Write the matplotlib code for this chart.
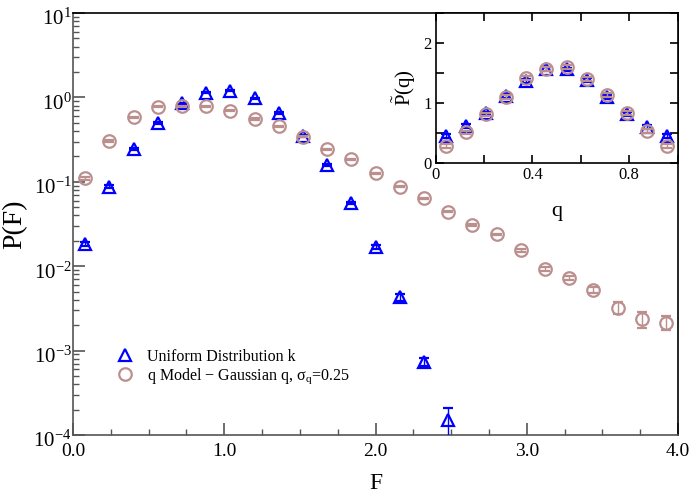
import numpy as np
import matplotlib
matplotlib.use('Agg')
import matplotlib.pyplot as plt
from matplotlib.lines import Line2D
from matplotlib.ticker import MultipleLocator, LogLocator, NullFormatter
import matplotlib.transforms as mtransforms

plt.rcParams['font.family'] = ['Liberation Serif', 'DejaVu Serif']
plt.rcParams['mathtext.fontset'] = 'custom'
plt.rcParams['mathtext.rm'] = 'Liberation Serif'
plt.rcParams['mathtext.it'] = 'Liberation Serif:italic'

# main panel: P(F), bins centred at 0.08 + 0.16*i
F_uni = [0.08, 0.24, 0.40, 0.56, 0.72, 0.88, 1.04, 1.20, 1.36, 1.52, 1.68, 1.84,
         2.00, 2.16, 2.32, 2.48]
P_uni = [0.0183, 0.0875, 0.243, 0.50, 0.85, 1.14, 1.20, 0.975, 0.648, 0.349, 0.158,
         0.056, 0.0168, 0.00428, 0.00074, 0.000151]
err_uni = [0.001, 0.004, 0.008, 0.01, 0.02, 0.02, 0.02, 0.02, 0.015, 0.01, 0.005,
           0.002, 0.0008, 0.0004, 0.00008, 0.00006]

F_gau = [0.08, 0.24, 0.40, 0.56, 0.72, 0.88, 1.04, 1.20, 1.36, 1.52, 1.68, 1.84,
         2.00, 2.16, 2.32, 2.48, 2.64, 2.80, 2.96, 3.12, 3.28, 3.44, 3.60, 3.76, 3.92]
P_gau = [0.11, 0.307, 0.581, 0.776, 0.79, 0.79, 0.697, 0.555, 0.458, 0.342, 0.243,
         0.185, 0.126, 0.0875, 0.0637, 0.0442, 0.0307, 0.0239, 0.0155, 0.00927,
         0.00731, 0.00522, 0.00322, 0.00235, 0.00214]
err_gau = [0.004, 0.008, 0.01, 0.01, 0.01, 0.01, 0.01, 0.008, 0.006, 0.005, 0.004,
           0.003, 0.002, 0.0015, 0.001, 0.0008, 0.0006, 0.0005, 0.0006, 0.0004,
           0.0004, 0.0004, 0.0005, 0.0005, 0.0004]

# inset: P~(q), 12 bins
q_bins = [0.0417, 0.125, 0.208, 0.292, 0.375, 0.458, 0.542, 0.625, 0.708, 0.792,
          0.875, 0.958]
Pq_uni = [0.45, 0.617, 0.829, 1.116, 1.37, 1.564, 1.56, 1.38, 1.105, 0.823, 0.607, 0.45]
Pq_gau = [0.287, 0.514, 0.812, 1.105, 1.42, 1.564, 1.60, 1.40, 1.13, 0.84, 0.536, 0.29]

blue = '#0000ff'
brown = '#bc8f8f'
lab_uni = 'Uniform Distribution k'
lab_gau = r'q Model $-$ Gaussian q, $\mathregular{\sigma_q}$=0.25'

mk = dict(ms=9, mfc='none', mew=1.6, elinewidth=1.0, capsize=3.5, capthick=1.0)

fig = plt.figure(figsize=(6.92, 4.94), dpi=100)
ax = fig.add_axes([73 / 692, 59 / 494, 605 / 692, 422 / 494])

ax.errorbar(F_uni, P_uni, yerr=err_uni, fmt='^', mec=blue, ecolor=blue, zorder=3, **mk)
ax.errorbar(F_gau, P_gau, yerr=err_gau, fmt='o', mec=brown, ecolor=brown, zorder=4, **mk)

ax.set_yscale('log')
ax.set_xlim(0, 4.0)
ax.set_ylim(1e-4, 1e1)
ax.xaxis.set_major_locator(MultipleLocator(1.0))
ax.xaxis.set_minor_locator(MultipleLocator(0.25))
ax.xaxis.set_major_formatter(plt.FormatStrFormatter('%.1f'))
ax.yaxis.set_major_locator(LogLocator(base=10, numticks=10))
ax.yaxis.set_minor_locator(LogLocator(base=10, subs=np.arange(2, 10), numticks=20))
ax.yaxis.set_minor_formatter(NullFormatter())
ax.tick_params(which='both', direction='in', top=False, right=False, color='#555555')
ax.tick_params(which='major', length=8.5, width=1.2)
ax.tick_params(which='minor', length=4.3, width=1.0)
ax.tick_params(axis='x', labelsize=14, pad=6)
ax.tick_params(axis='y', labelsize=15, pad=1)
for s in ax.spines.values():
    s.set_linewidth(1.2)
ax.spines['left'].set_color('#555555')
ax.spines['bottom'].set_color('#555555')

# shift y tick labels down a bit, like the original
shift = mtransforms.ScaledTranslation(0, -3 / 72, fig.dpi_scale_trans)
for lbl in ax.get_yticklabels():
    lbl.set_transform(lbl.get_transform() + shift)

ax.set_xlabel('F', fontsize=17, labelpad=9)
ax.set_ylabel('P(F)', fontsize=20, labelpad=4)

handles = [Line2D([], [], ls='none', marker='^', ms=9, mfc='none', mec=blue, mew=1.6),
           Line2D([], [], ls='none', marker='o', ms=9, mfc='none', mec=brown, mew=1.6)]
ax.legend(handles, [lab_uni, lab_gau], loc='center left', bbox_to_anchor=(0.06, 0.16),
          frameon=False, fontsize=11.5, handletextpad=0.85, labelspacing=0.08,
          handlelength=1.0, borderpad=0)

# inset
ins = fig.add_axes([435.7 / 692, (494 - 163.3) / 494, 241.8 / 692, 150.6 / 494])
ins.errorbar(q_bins, Pq_uni, yerr=0.03, fmt='^', mec=blue, ecolor=blue, zorder=3, **mk)
ins.errorbar(q_bins, Pq_gau, yerr=0.03, fmt='o', mec=brown, ecolor=brown, zorder=4, **mk)
ins.set_xlim(0, 1.0)
ins.set_ylim(0, 2.5)
ins.xaxis.set_major_locator(MultipleLocator(0.4))
ins.xaxis.set_minor_locator(MultipleLocator(0.2))
ins.yaxis.set_major_locator(MultipleLocator(1))
ins.yaxis.set_minor_locator(MultipleLocator(0.5))
ins.xaxis.set_major_formatter(plt.FuncFormatter(lambda v, p: '0' if v == 0 else '%g' % v))
ins.tick_params(which='both', direction='in', top=True, right=True, labelsize=12)
ins.tick_params(which='major', length=6, width=1.2, pad=3)
ins.tick_params(which='minor', length=6, width=1.2)
for s in ins.spines.values():
    s.set_linewidth(1.2)
ins.set_xlabel('q', fontsize=16, labelpad=13)
ins.set_ylabel(r'$\tilde{\mathregular{P}}\mathregular{(q)}$', fontsize=15, labelpad=4)

fig.savefig('out.png', dpi=100)
